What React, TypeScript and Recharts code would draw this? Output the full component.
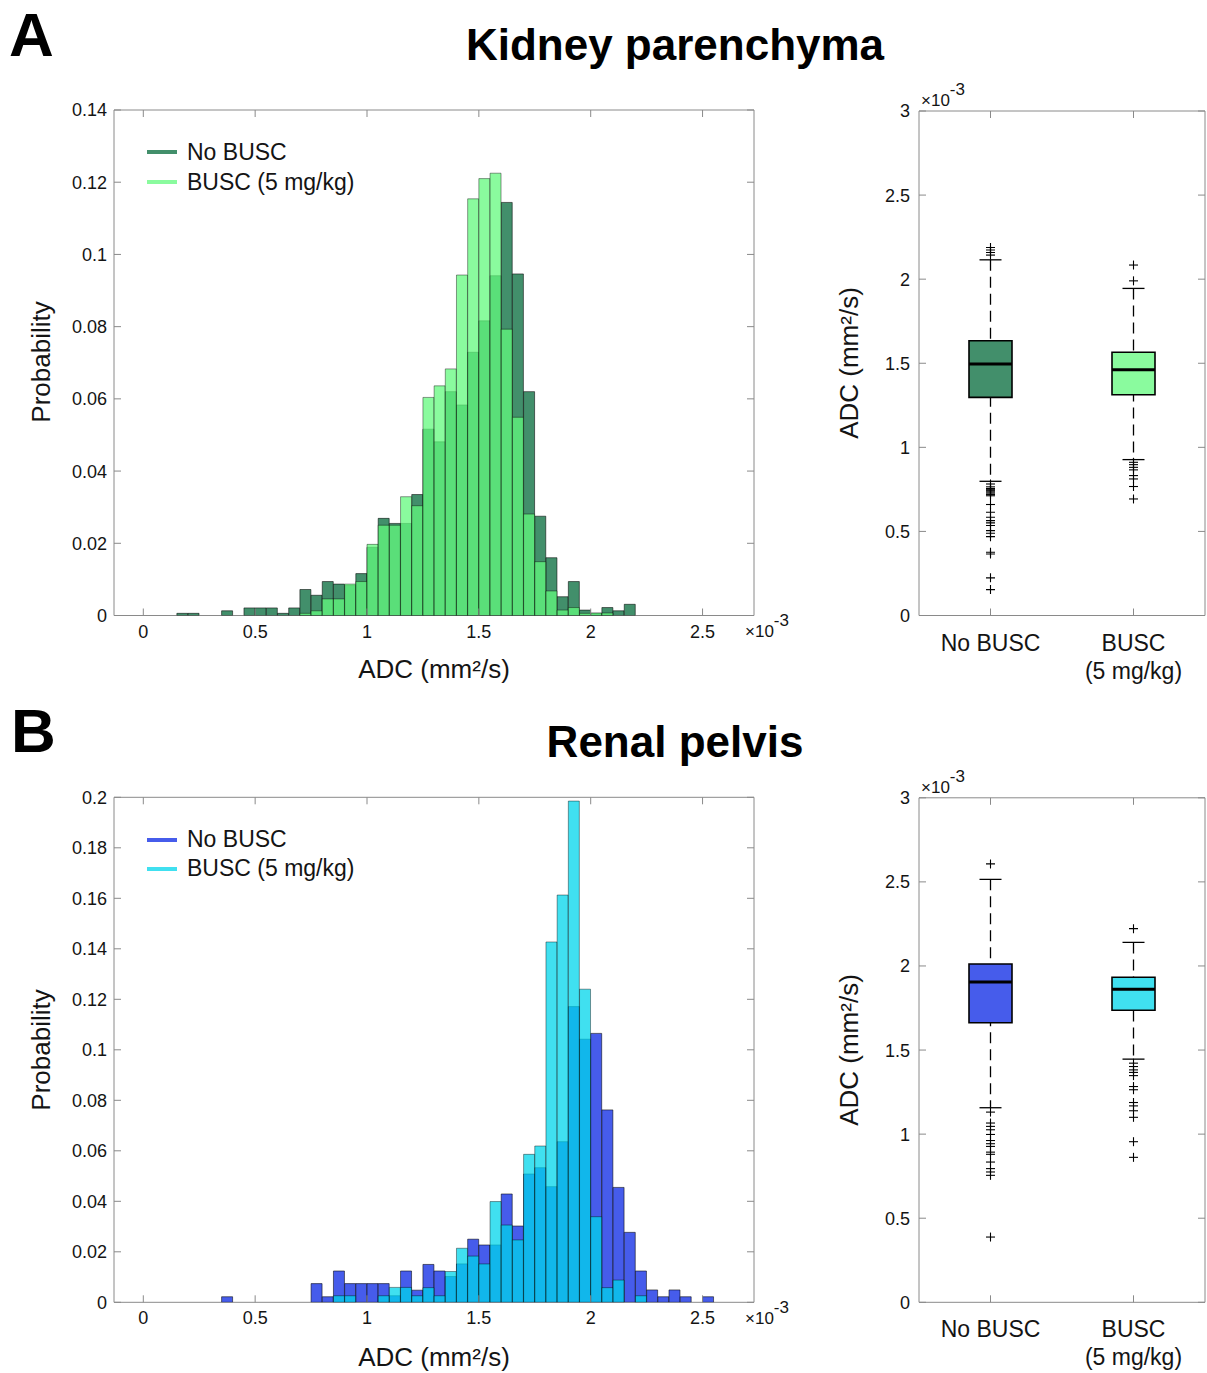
import React from "react";
import { ComposedChart, Bar, XAxis, YAxis, Scatter, Cell, Legend, ReferenceArea } from "recharts";

const FONT = '"Liberation Sans", Arial, Helvetica, sans-serif';
const FRAME = "#8a8a8a";
const INK = "#141414";

// ---------- histograms: bin centres (x10^-3 mm²/s), bin width 0.05 ----------
const parenchymaBins = [
  0.175, 0.225, 0.275, 0.325, 0.375, 0.425, 0.475, 0.525, 0.575, 0.625, 0.675, 0.725, 0.775, 0.825,
  0.875, 0.925, 0.975, 1.025, 1.075, 1.125, 1.175, 1.225, 1.275, 1.325, 1.375, 1.425, 1.475, 1.525,
  1.575, 1.625, 1.675, 1.725, 1.775, 1.825, 1.875, 1.925, 1.975, 2.025, 2.075, 2.125, 2.175,
];
const parenchymaNoBusc = [
  0.0006, 0.0006, 0, 0, 0.0013, 0, 0.0021, 0.0021, 0.0021, 0.0006, 0.0021, 0.0072, 0.0056, 0.0094,
  0.0087, 0.0083, 0.0116, 0.0189, 0.0269, 0.0255, 0.0255, 0.0335, 0.0516, 0.0481, 0.062, 0.0583, 0.0729, 0.0816,
  0.0941, 0.1144, 0.0946, 0.062, 0.0275, 0.016, 0.0052, 0.0094, 0.0015, 0.0006, 0.0022, 0.0013, 0.0031,
];
const parenchymaBusc = [
  0, 0, 0, 0, 0, 0, 0, 0, 0, 0, 0, 0.0006, 0.0013, 0.0046,
  0.0046, 0.0087, 0.0094, 0.0197, 0.025, 0.025, 0.0329, 0.0304, 0.0604, 0.0636, 0.0683, 0.0943, 0.1154, 0.121,
  0.1225, 0.0793, 0.0549, 0.0281, 0.0149, 0.0068, 0.0015, 0.0022, 0.0006, 0.0007, 0.0007, 0, 0,
];

const pelvisBins = [
  0.375, 0.425, 0.475, 0.525, 0.575, 0.625, 0.675, 0.725, 0.775, 0.825, 0.875, 0.925, 0.975, 1.025,
  1.075, 1.125, 1.175, 1.225, 1.275, 1.325, 1.375, 1.425, 1.475, 1.525, 1.575, 1.625, 1.675, 1.725,
  1.775, 1.825, 1.875, 1.925, 1.975, 2.025, 2.075, 2.125, 2.175, 2.225, 2.275, 2.325, 2.375, 2.425,
  2.475, 2.525,
];
const pelvisNoBusc = [
  0.0022, 0, 0, 0, 0, 0, 0, 0, 0.0074, 0.0022, 0.0124, 0.0074, 0.0074, 0.0074,
  0.0074, 0.0026, 0.0124, 0.0048, 0.015, 0.0124, 0.0102, 0.0152, 0.025, 0.0227, 0.0227, 0.0429, 0.0302, 0.0508,
  0.0533, 0.0458, 0.0636, 0.1171, 0.1042, 0.1065, 0.0762, 0.0455, 0.0277, 0.0124, 0.0049, 0.0022, 0.0049, 0.0022,
  0, 0.0022,
];
const pelvisBusc = [
  0, 0, 0, 0, 0, 0, 0, 0, 0, 0, 0.0026, 0.0026, 0, 0,
  0.0026, 0.0059, 0.0059, 0.0026, 0.0058, 0.0026, 0.0122, 0.0214, 0.0183, 0.0152, 0.0399, 0.0306, 0.0247, 0.0586,
  0.0619, 0.1427, 0.1613, 0.1985, 0.124, 0.0339, 0.0058, 0.0088, 0, 0.0026, 0, 0, 0, 0,
  0, 0,
];

const histTicksX = [0, 0.5, 1, 1.5, 2, 2.5];
const parenchymaTicksY = [0, 0.02, 0.04, 0.06, 0.08, 0.1, 0.12, 0.14];
const pelvisTicksY = [0, 0.02, 0.04, 0.06, 0.08, 0.1, 0.12, 0.14, 0.16, 0.18, 0.2];
const legendNames = ["No BUSC", "BUSC (5 mg/kg)"];

// ---------- box plots (x10^-3 mm²/s) ----------
const boxGroups = ["No BUSC", "BUSC (5 mg/kg)"];
const boxTicksY = [0, 0.5, 1, 1.5, 2, 2.5, 3];

const parLow = [0.798, 0.927];
const parQ1 = [1.297, 1.313];
const parMed = [1.495, 1.462];
const parQ3 = [1.634, 1.565];
const parHigh = [2.115, 1.945];
const parOutNoBusc = [
  2.188, 2.173, 2.159, 2.143, 0.782, 0.765, 0.755, 0.748, 0.742, 0.735, 0.728, 0.72, 0.712, 0.66, 0.614,
  0.584, 0.564, 0.551, 0.535, 0.505, 0.489, 0.469, 0.376, 0.366, 0.224, 0.154,
];
const parOutBusc = [2.084, 1.99, 0.911, 0.897, 0.881, 0.866, 0.832, 0.812, 0.767, 0.693];

const pelLow = [1.157, 1.446];
const pelQ1 = [1.662, 1.737];
const pelMed = [1.905, 1.862];
const pelQ3 = [2.012, 1.933];
const pelHigh = [2.515, 2.14];
const pelOutNoBusc = [
  2.607, 1.131, 1.066, 1.046, 1.026, 0.998, 0.962, 0.943, 0.927, 0.893, 0.88, 0.834, 0.795, 0.775, 0.755, 0.388,
];
const pelOutBusc = [2.222, 1.422, 1.402, 1.382, 1.367, 1.348, 1.283, 1.264, 1.188, 1.168, 1.139, 1.1, 0.955, 0.862];

// colours
const greenDark = "#428f6b";
const greenLight = "#8afb9e";
const greenLightFace = "#63fa7e";
const blueDark = "#465ceb";
const blueLight = "#40e0f0";
const blueLightFace = "#00d5eb";

const TICK_FONT = 18;
const fmt = (v: number) => String(+v.toFixed(3));

const makeXTick = (plotH: number) => (props: any) => {
  const { x, y, payload } = props;
  return (
    <g>
      <line x1={x} x2={x} y1={y} y2={y - 7} stroke={FRAME} />
      <line x1={x} x2={x} y1={y - plotH} y2={y - plotH + 7} stroke={FRAME} />
      <text x={x} y={y + 22} textAnchor="middle" fontSize={TICK_FONT} fontFamily={FONT} fill={INK}>
        {fmt(payload.value)}
      </text>
    </g>
  );
};

const makeYTick = (plotW: number, gap: number) => (props: any) => {
  const { x, y, payload } = props;
  return (
    <g>
      <line x1={x} x2={x + 7} y1={y} y2={y} stroke={FRAME} />
      <line x1={x + plotW} x2={x + plotW - 7} y1={y} y2={y} stroke={FRAME} />
      <text x={x - gap} y={y} dy="0.36em" textAnchor="end" fontSize={TICK_FONT} fontFamily={FONT} fill={INK}>
        {fmt(payload.value)}
      </text>
    </g>
  );
};

const makeBoxXTick = (plotH: number) => (props: any) => {
  const { x, y, payload } = props;
  const lines = String(payload.value).replace(" (", "\n(").split("\n");
  return (
    <g>
      <line x1={x} x2={x} y1={y} y2={y - 7} stroke={FRAME} />
      <line x1={x} x2={x} y1={y - plotH} y2={y - plotH + 7} stroke={FRAME} />
      {lines.map((l, i) => (
        <text key={i} x={x} y={y + 35 + i * 28} textAnchor="middle" fontSize={23} fontFamily={FONT} fill={INK}>
          {l}
        </text>
      ))}
    </g>
  );
};

function HistLegend({ colors, rowH }: { colors: string[]; rowH: number }) {
  return (
    <div style={{ fontFamily: FONT, fontSize: 23, color: INK, lineHeight: `${rowH}px`, whiteSpace: "nowrap" }}>
      {legendNames.map((n, i) => (
        <div key={n} style={{ display: "flex", alignItems: "center" }}>
          <span style={{ display: "inline-block", width: 30, height: 4, background: colors[i], marginRight: 10 }} />
          {n}
        </div>
      ))}
    </div>
  );
}

type HistProps = {
  bins: number[];
  dark: number[];
  light: number[];
  top: number;
  height: number;
  mTop: number;
  mBottom: number;
  yMax: number;
  yTicks: number[];
  darkColor: string;
  lightFace: string;
  legendColors: string[];
  legendTop: number;
  legendRow: number;
};

function Histogram(p: HistProps) {
  const W = 800;
  const plotLeft = 114;
  const mRight = 46;
  const plotW = W - plotLeft - mRight;
  const plotH = p.height - p.mTop - p.mBottom;
  const rows = p.bins.map((x, i) => ({ x, noBusc: p.dark[i], busc: p.light[i] }));
  const domain: [number, number] = [-0.131, 2.73];
  return (
    <div style={{ position: "absolute", left: 0, top: p.top }}>
      <ComposedChart
        width={W}
        height={p.height}
        data={rows}
        margin={{ top: p.mTop, right: mRight, bottom: p.mBottom - 1, left: plotLeft - 1 }}
        barCategoryGap={0}
        barGap={0}
      >
        <XAxis
          xAxisId="a"
          dataKey="x"
          type="number"
          domain={domain}
          ticks={histTicksX}
          height={1}
          tickSize={0}
          tickMargin={0}
          axisLine={false}
          tickLine={false}
          interval={0}
          tick={makeXTick(plotH)}
          allowDataOverflow
        />
        <XAxis xAxisId="b" dataKey="x" type="number" domain={domain} hide allowDataOverflow />
        <YAxis
          type="number"
          domain={[0, p.yMax]}
          ticks={p.yTicks}
          width={1}
          tickSize={0}
          tickMargin={0}
          axisLine={false}
          tickLine={false}
          interval={0}
          tick={makeYTick(plotW, 7)}
          allowDataOverflow
        />
        <Bar
          xAxisId="a"
          dataKey="noBusc"
          name={legendNames[0]}
          fill={p.darkColor}
          stroke="#000"
          strokeOpacity={0.6}
          strokeWidth={0.9}
          isAnimationActive={false}
        />
        <Bar
          xAxisId="b"
          dataKey="busc"
          name={legendNames[1]}
          fill={p.lightFace}
          fillOpacity={0.75}
          stroke="#000"
          strokeOpacity={0.45}
          strokeWidth={0.9}
          isAnimationActive={false}
        />
        <ReferenceArea xAxisId="a" y1={0} y2={p.yMax} fill="none" stroke={FRAME} strokeWidth={1} ifOverflow="visible" />
        <Legend
          layout="vertical"
          align="center"
          verticalAlign="middle"
          wrapperStyle={{ left: 147, top: p.legendTop, width: "auto", height: "auto" }}
          content={() => <HistLegend colors={p.legendColors} rowH={p.legendRow} />}
        />
      </ComposedChart>
    </div>
  );
}

const plusShape = (props: any) => {
  const { cx, cy } = props;
  return (
    <g stroke="#000" strokeWidth={1.1}>
      <line x1={cx - 4.5} x2={cx + 4.5} y1={cy} y2={cy} />
      <line x1={cx} x2={cx} y1={cy - 4.5} y2={cy + 4.5} />
    </g>
  );
};

const medianShape = (props: any) => {
  const { cx, cy } = props;
  return <line x1={cx - 21.5} x2={cx + 21.5} y1={cy} y2={cy} stroke="#000" strokeWidth={3} />;
};

const whiskerShape = (props: any) => {
  const { x, y, width, height } = props;
  const cx = x + width / 2;
  const y0 = Math.min(y, y + height);
  const y1 = Math.max(y, y + height);
  return (
    <g stroke="#000" strokeWidth={1.3}>
      <line x1={cx} x2={cx} y1={y0} y2={y1} strokeDasharray="11 6" />
      <line x1={cx - 11} x2={cx + 11} y1={y0} y2={y0} />
      <line x1={cx - 11} x2={cx + 11} y1={y1} y2={y1} />
    </g>
  );
};

type BoxProps = {
  top: number;
  height: number;
  mTop: number;
  mBottom: number;
  low: number[];
  q1: number[];
  med: number[];
  q3: number[];
  high: number[];
  outNo: number[];
  outBusc: number[];
  fills: string[];
};

function BoxPlot(p: BoxProps) {
  const W = 377;
  const plotLeft = 89;
  const mRight = 2;
  const plotW = W - plotLeft - mRight;
  const plotH = p.height - p.mTop - p.mBottom;
  const rows = boxGroups.map((name, i) => ({
    name,
    whisker: [p.low[i], p.high[i]],
    box: [p.q1[i], p.q3[i]],
    median: p.med[i],
  }));
  const outliers = [
    ...p.outNo.map((v) => ({ name: boxGroups[0], v })),
    ...p.outBusc.map((v) => ({ name: boxGroups[1], v })),
  ];
  return (
    <div style={{ position: "absolute", left: 830, top: p.top }}>
      <ComposedChart
        width={W}
        height={p.height}
        data={rows}
        margin={{ top: p.mTop, right: mRight, bottom: p.mBottom - 1, left: plotLeft - 1 }}
      >
        <XAxis
          dataKey="name"
          type="category"
          allowDuplicatedCategory={false}
          height={1}
          tickSize={0}
          tickMargin={0}
          axisLine={false}
          tickLine={false}
          interval={0}
          tick={makeBoxXTick(plotH)}
        />
        <XAxis xAxisId="w" dataKey="name" type="category" allowDuplicatedCategory={false} hide />
        <XAxis xAxisId="b" dataKey="name" type="category" allowDuplicatedCategory={false} hide />
        <YAxis
          type="number"
          domain={[0, 3]}
          ticks={boxTicksY}
          width={1}
          tickSize={0}
          tickMargin={0}
          axisLine={false}
          tickLine={false}
          interval={0}
          tick={makeYTick(plotW, 9)}
          allowDataOverflow
        />
        <ReferenceArea y1={0} y2={3} fill="none" stroke={FRAME} strokeWidth={1} ifOverflow="visible" />
        <Bar xAxisId="w" dataKey="whisker" barSize={43} shape={whiskerShape} isAnimationActive={false} />
        <Bar xAxisId="b" dataKey="box" barSize={43} stroke="#000" strokeWidth={1.6} isAnimationActive={false}>
          {rows.map((r, i) => (
            <Cell key={r.name} fill={p.fills[i]} />
          ))}
        </Bar>
        <Scatter dataKey="median" shape={medianShape} isAnimationActive={false} />
        <Scatter data={outliers} dataKey="v" shape={plusShape} isAnimationActive={false} />
      </ComposedChart>
    </div>
  );
}

function Sci({ x, y }: { x: number; y: number }) {
  return (
    <text x={x} y={y} fontSize={17} fontFamily={FONT} fill={INK}>
      ×10
      <tspan dy={-11} fontSize={17}>
        -3
      </tspan>
    </text>
  );
}

export default function App() {
  return (
    <div style={{ position: "absolute", left: 0, top: 0, width: 1207, height: 1373, background: "#fff", fontFamily: FONT }}>
      <Histogram
        bins={parenchymaBins}
        dark={parenchymaNoBusc}
        light={parenchymaBusc}
        top={0}
        height={700}
        mTop={110}
        mBottom={84.5}
        yMax={0.14}
        yTicks={parenchymaTicksY}
        darkColor={greenDark}
        lightFace={greenLightFace}
        legendColors={[greenDark, greenLight]}
        legendTop={137}
        legendRow={30}
      />
      <Histogram
        bins={pelvisBins}
        dark={pelvisNoBusc}
        light={pelvisBusc}
        top={687}
        height={686}
        mTop={110.3}
        mBottom={70.7}
        yMax={0.2}
        yTicks={pelvisTicksY}
        darkColor={blueDark}
        lightFace={blueLightFace}
        legendColors={[blueDark, blueLight]}
        legendTop={138}
        legendRow={29}
      />
      <BoxPlot
        top={0}
        height={700}
        mTop={111}
        mBottom={84.5}
        low={parLow}
        q1={parQ1}
        med={parMed}
        q3={parQ3}
        high={parHigh}
        outNo={parOutNoBusc}
        outBusc={parOutBusc}
        fills={[greenDark, greenLight]}
      />
      <BoxPlot
        top={687}
        height={686}
        mTop={110.8}
        mBottom={70.7}
        low={pelLow}
        q1={pelQ1}
        med={pelMed}
        q3={pelQ3}
        high={pelHigh}
        outNo={pelOutNoBusc}
        outBusc={pelOutBusc}
        fills={[blueDark, blueLight]}
      />
      <svg width={1207} height={1373} style={{ position: "absolute", left: 0, top: 0, pointerEvents: "none" }}>
        <g fontFamily={FONT} fill={INK}>
          <text x={9} y={56} fontSize={62} fontWeight="bold" fill="#000">A</text>
          <text x={675} y={60} fontSize={44} fontWeight="bold" textAnchor="middle" fill="#000">Kidney parenchyma</text>
          <text x={50} y={362} fontSize={26} textAnchor="middle" transform="rotate(-90 50 362)">Probability</text>
          <text x={434} y={678} fontSize={26} textAnchor="middle">ADC (mm²/s)</text>
          <text x={858} y={363} fontSize={26} textAnchor="middle" transform="rotate(-90 858 363)">ADC (mm²/s)</text>
          <Sci x={745} y={637} />
          <Sci x={921} y={106} />

          <text x={11} y={752} fontSize={62} fontWeight="bold" fill="#000">B</text>
          <text x={675} y={757} fontSize={44} fontWeight="bold" textAnchor="middle" fill="#000">Renal pelvis</text>
          <text x={50} y={1050} fontSize={26} textAnchor="middle" transform="rotate(-90 50 1050)">Probability</text>
          <text x={434} y={1366} fontSize={26} textAnchor="middle">ADC (mm²/s)</text>
          <text x={858} y={1050} fontSize={26} textAnchor="middle" transform="rotate(-90 858 1050)">ADC (mm²/s)</text>
          <Sci x={745} y={1324} />
          <Sci x={921} y={793} />
        </g>
      </svg>
    </div>
  );
}
